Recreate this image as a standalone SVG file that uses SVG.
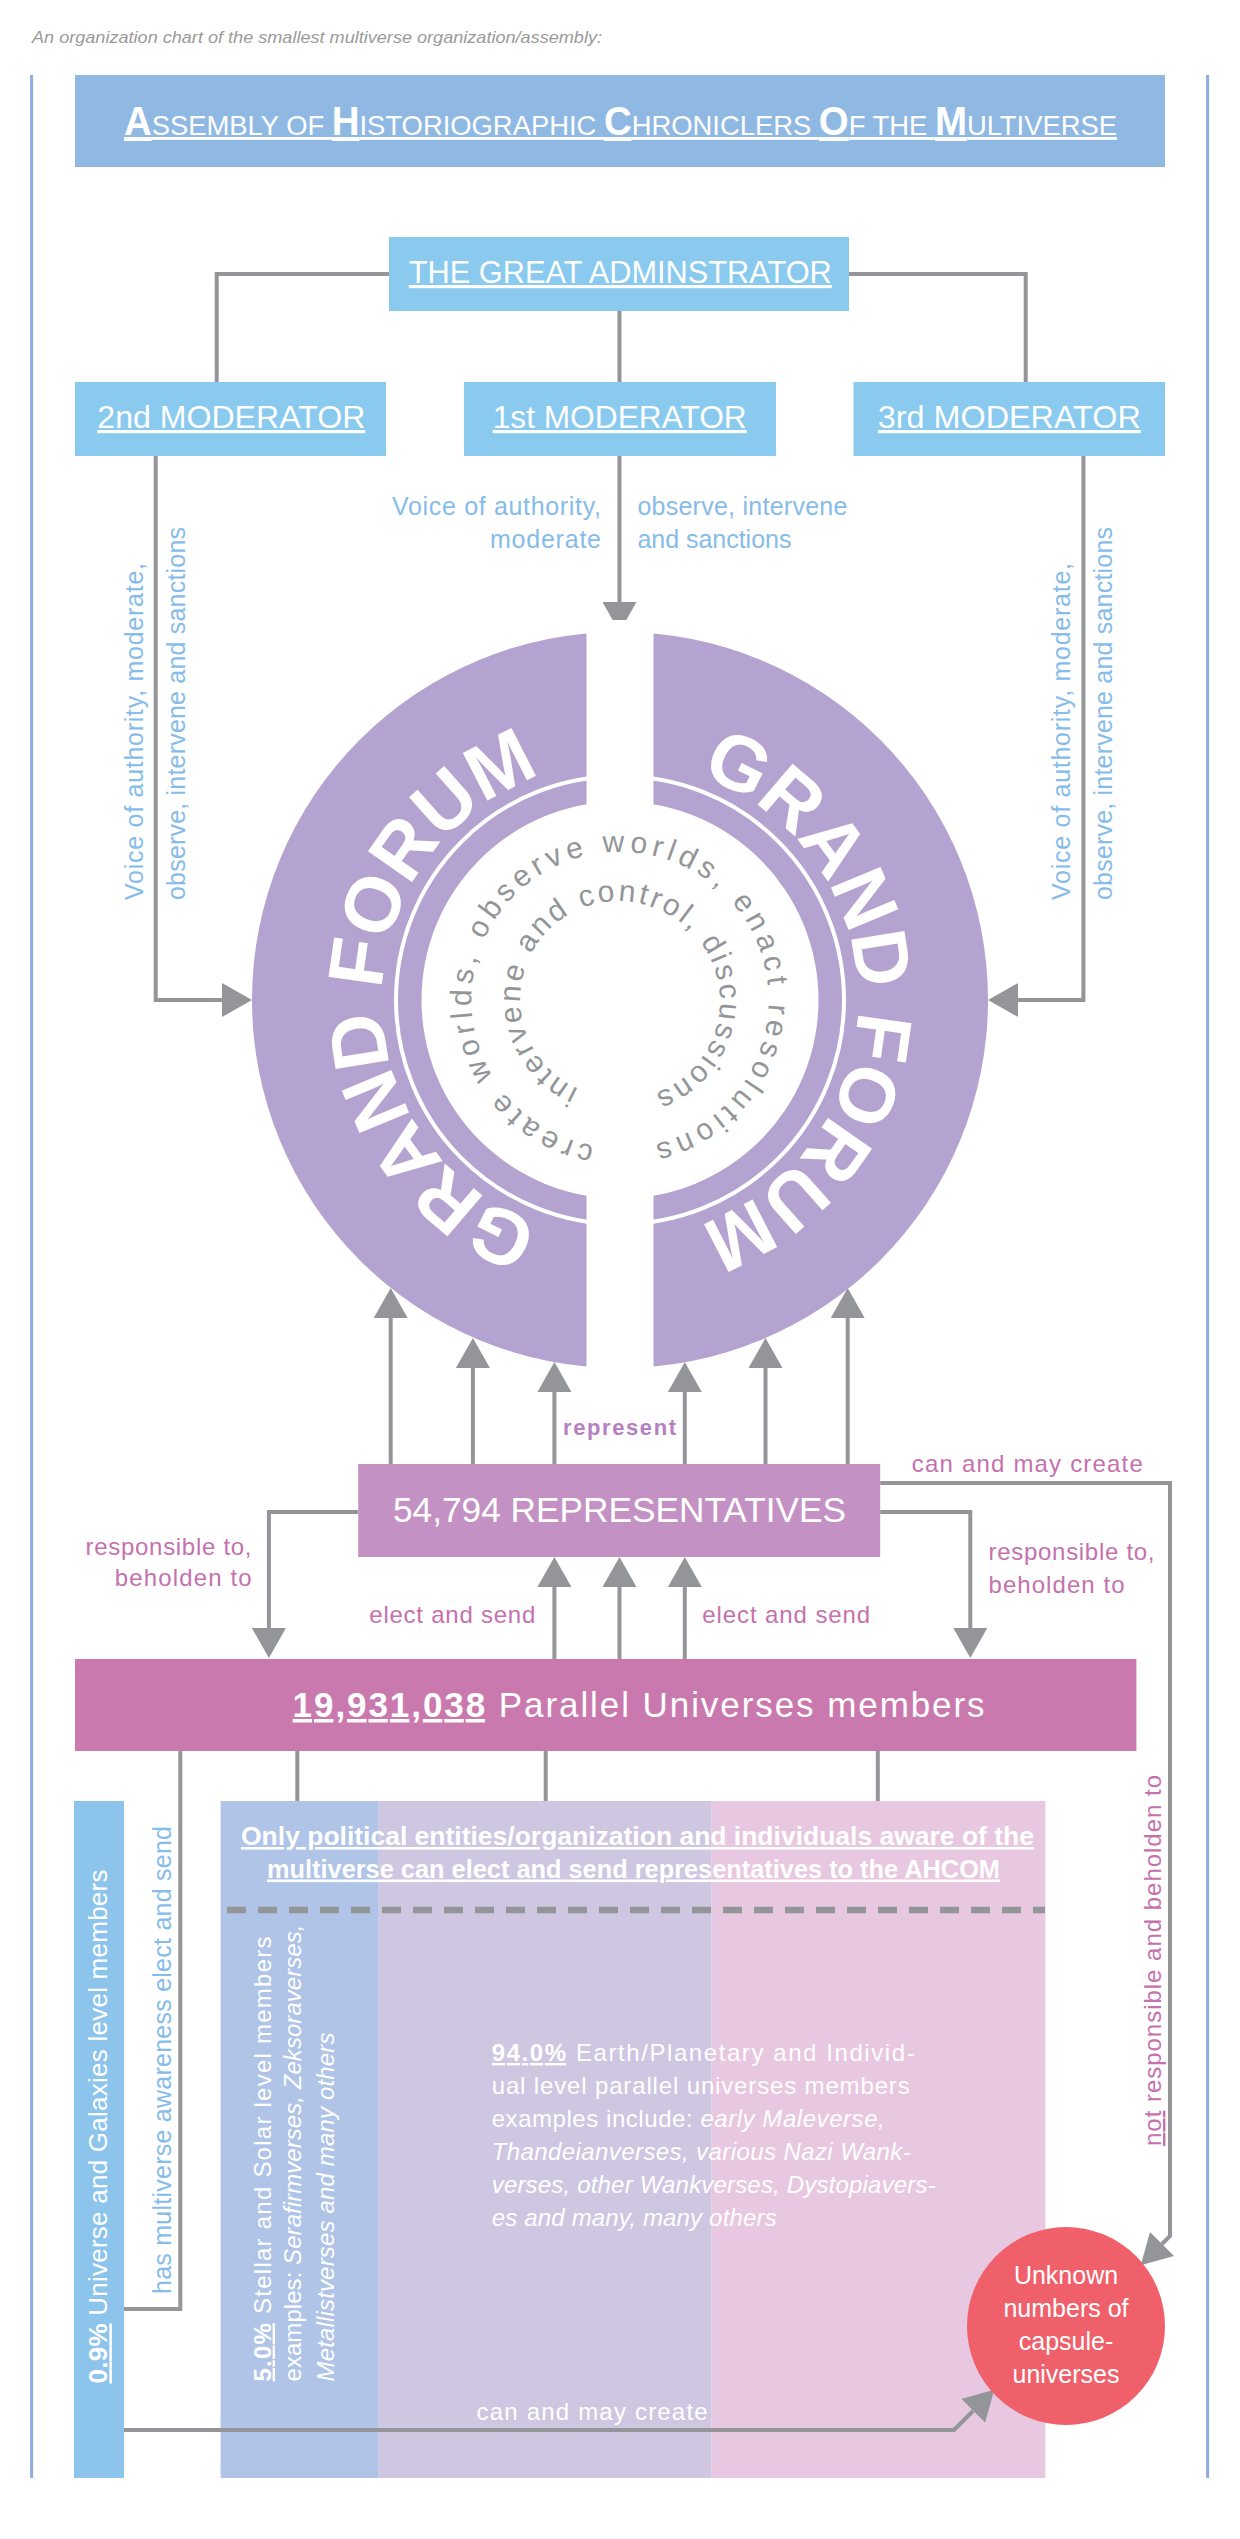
<svg xmlns="http://www.w3.org/2000/svg" width="1240" height="2539" viewBox="0 0 1240 2539">
<style>
text{font-family:"Liberation Sans",Arial,sans-serif;}
.cap{font-size:17px;font-style:italic;fill:#9a9a9a;}
.wt{fill:#ffffff;}
.u{text-decoration:underline;}
.b{font-weight:bold;}
.i{font-style:italic;}
.box{font-size:32px;fill:#ffffff;text-decoration:underline;}
.lb{font-size:25px;fill:#86bce9;}
.pk{font-size:24px;fill:#c571ae;}
.cn{fill:none;stroke:#939598;stroke-width:4;}
.gf{font-size:78px;font-weight:bold;fill:#ffffff;letter-spacing:-0.7px;}
.sp{font-size:30px;fill:#939598;}
.pn{font-size:24px;fill:#ffffff;}
</style>
<defs>
<marker id="ah" viewBox="0 0 30 34" refX="0" refY="17" markerWidth="30" markerHeight="34" markerUnits="userSpaceOnUse" orient="auto">
<path d="M0,0 L30,17 L0,34 Z" fill="#939598"/>
</marker>
<path id="gfL" d="M620,1238 A238,238 0 0,1 620,762"/>
<path id="gfR" d="M620,762 A238,238 0 0,1 620,1238"/>
<path id="spO" d="M594.3,1145.75 A148,148 0 1,1 645.7,854.25 A148,148 0 1,1 594.3,1145.75"/>
<path id="spI" d="M578.6,1088.8 A98,98 0 1,1 661.4,911.2 A98,98 0 1,1 578.6,1088.8"/>
</defs>
<rect x="0" y="0" width="1240" height="2539" fill="#ffffff"/>

<text class="cap" x="32" y="43" textLength="570" lengthAdjust="spacingAndGlyphs">An organization chart of the smallest multiverse organization/assembly:</text>

<g id="frame">
<line x1="31.6" y1="75" x2="31.6" y2="2478" stroke="#8eabdf" stroke-width="3"/>
<line x1="1207.6" y1="75" x2="1207.6" y2="2478" stroke="#8eabdf" stroke-width="3"/>
</g>

<g id="title">
<rect x="75" y="75" width="1090" height="92" fill="#8fb9e3"/>
<text x="124" y="135" textLength="993" lengthAdjust="spacingAndGlyphs" class="wt u" font-size="28.5"><tspan font-size="40" font-weight="bold">A</tspan>SSEMBLY OF <tspan font-size="40" font-weight="bold">H</tspan>ISTORIOGRAPHIC <tspan font-size="40" font-weight="bold">C</tspan>HRONICLERS <tspan font-size="40" font-weight="bold">O</tspan>F THE <tspan font-size="40" font-weight="bold">M</tspan>ULTIVERSE</text>
</g>

<g id="panel">
<rect x="220.6" y="1801" width="158.2" height="677" fill="#afc4e7"/>
<rect x="378.8" y="1801" width="332.9" height="677" fill="#cfc6e2"/>
<rect x="711.7" y="1801" width="333.7" height="677" fill="#e8c8e0"/>
<text class="wt b u" font-size="26" x="241" y="1845" textLength="793" lengthAdjust="spacingAndGlyphs">Only political entities/organization and individuals aware of the</text>
<text class="wt b u" font-size="26" x="267" y="1877.5" textLength="733" lengthAdjust="spacingAndGlyphs">multiverse can elect and send representatives to the AHCOM</text>
<line x1="227" y1="1910" x2="1045" y2="1910" stroke="#939598" stroke-width="6.5" stroke-dasharray="19 12"/>
<text class="pn" transform="translate(270.6,2381.5) rotate(-90)" textLength="445" lengthAdjust="spacing"><tspan class="b u">5.0%</tspan> Stellar and Solar level members</text>
<text class="pn" transform="translate(301,2381.5) rotate(-90)" textLength="457" lengthAdjust="spacing">examples: <tspan class="i">Serafirmverses, Zeksoraverses,</tspan></text>
<text class="pn i" transform="translate(333.8,2381.5) rotate(-90)" textLength="349" lengthAdjust="spacing">Metallistverses and many others</text>
<text class="pn" x="491.7" y="2061" textLength="423" lengthAdjust="spacing"><tspan class="b u">94.0%</tspan> Earth/Planetary and Individ-</text>
<text class="pn" x="491.7" y="2094" textLength="418" lengthAdjust="spacing">ual level parallel universes members</text>
<text class="pn" x="491.7" y="2127" textLength="393" lengthAdjust="spacing">examples include: <tspan class="i">early Maleverse,</tspan></text>
<text class="pn i" x="491.7" y="2160" textLength="419" lengthAdjust="spacing">Thandeianverses, various Nazi Wank-</text>
<text class="pn i" x="491.7" y="2193" textLength="444" lengthAdjust="spacing">verses, other Wankverses, Dystopiavers-</text>
<text class="pn i" x="491.7" y="2226" textLength="285" lengthAdjust="spacing">es and many, many others</text>
</g>

<g id="galaxies">
<rect x="74" y="1801" width="50" height="677" fill="#8dc4ec"/>
<text class="wt" font-size="26" transform="translate(107.3,2383.5) rotate(-90)" textLength="514" lengthAdjust="spacing"><tspan class="b u">0.9%</tspan> Universe and Galaxies level members</text>
</g>

<g id="connectors">
<path class="cn" d="M389,274 H216.7 V382"/>
<path class="cn" d="M848.5,274 H1025.7 V382"/>
<path class="cn" d="M619.5,311 V382"/>
<path class="cn" d="M155.7,456 V1000 H222" marker-end="url(#ah)"/>
<path class="cn" d="M1083.4,456 V1000 H1018" marker-end="url(#ah)"/>
<path class="cn" d="M619.5,456 V602" marker-end="url(#ah)"/>
<path class="cn" d="M390.7,1464 V1318" marker-end="url(#ah)"/>
<path class="cn" d="M472.9,1464 V1368" marker-end="url(#ah)"/>
<path class="cn" d="M554.4,1464 V1392" marker-end="url(#ah)"/>
<path class="cn" d="M684.8,1464 V1392" marker-end="url(#ah)"/>
<path class="cn" d="M765.5,1464 V1368" marker-end="url(#ah)"/>
<path class="cn" d="M847.7,1464 V1318" marker-end="url(#ah)"/>
<path class="cn" d="M358.2,1512 H268.9 V1628" marker-end="url(#ah)"/>
<path class="cn" d="M880.2,1512 H970.3 V1628" marker-end="url(#ah)"/>
<path class="cn" d="M554.4,1659 V1587" marker-end="url(#ah)"/>
<path class="cn" d="M619.5,1659 V1587" marker-end="url(#ah)"/>
<path class="cn" d="M684.8,1659 V1587" marker-end="url(#ah)"/>
<path class="cn" d="M880.2,1483 H1170 V2236 L1162,2244" marker-end="url(#ah)"/>
<path class="cn" d="M180.3,1751 V2309 H124"/>
<path class="cn" d="M297.3,1751 V1801"/>
<path class="cn" d="M545.7,1751 V1801"/>
<path class="cn" d="M877.8,1751 V1801"/>
<path class="cn" d="M124,2430 H954 L973,2411" marker-end="url(#ah)"/>
</g>

<g id="labels">
<text class="lb" x="392" y="515" textLength="209" lengthAdjust="spacing">Voice of authority,</text>
<text class="lb" x="490" y="548" textLength="111" lengthAdjust="spacing">moderate</text>
<text class="lb" x="637.4" y="515" textLength="210" lengthAdjust="spacing">observe, intervene</text>
<text class="lb" x="637.4" y="548" textLength="154" lengthAdjust="spacing">and sanctions</text>
<text class="lb" transform="translate(142.7,900) rotate(-90)" textLength="337" lengthAdjust="spacing">Voice of authority, moderate,</text>
<text class="lb" transform="translate(185,900) rotate(-90)" textLength="373" lengthAdjust="spacing">observe, intervene and sanctions</text>
<text class="lb" transform="translate(1070,900) rotate(-90)" textLength="337" lengthAdjust="spacing">Voice of authority, moderate,</text>
<text class="lb" transform="translate(1112,900) rotate(-90)" textLength="373" lengthAdjust="spacing">observe, intervene and sanctions</text>
<text font-size="22" font-weight="bold" fill="#b57fc0" x="563" y="1435" textLength="113" lengthAdjust="spacing">represent</text>
<text class="pk" x="911.8" y="1472" textLength="231" lengthAdjust="spacing">can and may create</text>
<text class="pk" x="85.5" y="1555" textLength="166" lengthAdjust="spacing">responsible to,</text>
<text class="pk" x="114.7" y="1586" textLength="137" lengthAdjust="spacing">beholden to</text>
<text class="pk" x="988.5" y="1560" textLength="166" lengthAdjust="spacing">responsible to,</text>
<text class="pk" x="988.5" y="1593" textLength="136" lengthAdjust="spacing">beholden to</text>
<text class="pk" x="369.3" y="1623" textLength="166" lengthAdjust="spacing">elect and send</text>
<text class="pk" x="702.2" y="1623" textLength="168" lengthAdjust="spacing">elect and send</text>
<text class="lb" transform="translate(171.4,2294) rotate(-90)" textLength="468" lengthAdjust="spacing">has multiverse awareness elect and send</text>
<text class="pk" transform="translate(1161,2146) rotate(-90)" textLength="371" lengthAdjust="spacing"><tspan class="u">not</tspan> responsible and beholden to</text>
<text class="pn" x="476.6" y="2420" textLength="231" lengthAdjust="spacing">can and may create</text>
</g>

<g id="administrator">
<rect x="389" y="237" width="460" height="74" fill="#89caee"/>
<text class="box" x="408.8" y="283" textLength="423" lengthAdjust="spacingAndGlyphs">THE GREAT ADMINSTRATOR</text>
</g>
<g id="moderator2">
<rect x="75" y="382" width="311" height="74" fill="#89caee"/>
<text class="box" x="97.3" y="428" textLength="268" lengthAdjust="spacingAndGlyphs">2nd MODERATOR</text>
</g>
<g id="moderator1">
<rect x="464" y="382" width="312" height="74" fill="#89caee"/>
<text class="box" x="492.7" y="428" textLength="254" lengthAdjust="spacingAndGlyphs">1st MODERATOR</text>
</g>
<g id="moderator3">
<rect x="853.5" y="382" width="311.5" height="74" fill="#89caee"/>
<text class="box" x="877.8" y="428" textLength="263" lengthAdjust="spacingAndGlyphs">3rd MODERATOR</text>
</g>

<g id="forum">
<circle cx="620" cy="1000" r="368" fill="#b4a3d0"/>
<circle cx="620" cy="1000" r="224" fill="none" stroke="#ffffff" stroke-width="4"/>
<circle cx="620" cy="1000" r="198.5" fill="#ffffff"/>
<rect x="586.5" y="620" width="67" height="760" fill="#ffffff"/>
<text class="gf"><textPath href="#gfL" startOffset="50%" text-anchor="middle">GRAND FORUM</textPath></text>
<text class="gf"><textPath href="#gfR" startOffset="50%" text-anchor="middle">GRAND FORUM</textPath></text>
<text class="sp" letter-spacing="4.9"><textPath href="#spO">create worlds, observe worlds, enact resolutions</textPath></text>
<text class="sp" letter-spacing="2.8"><textPath href="#spI">intervene and control, discussions</textPath></text>
</g>

<g id="representatives">
<rect x="358.2" y="1464" width="522" height="93" fill="#c391c3"/>
<text class="wt" font-size="35" x="393" y="1522" textLength="453" lengthAdjust="spacingAndGlyphs">54,794 REPRESENTATIVES</text>
</g>

<g id="members">
<rect x="75" y="1659" width="1061.4" height="92" fill="#ca79ae"/>
<text class="wt" font-size="35" x="292.6" y="1717" textLength="692" lengthAdjust="spacing"><tspan class="b u">19,931,038</tspan> Parallel Universes members</text>
</g>

<g id="capsule">
<circle cx="1066" cy="2326" r="99" fill="#f0606b"/>
<text class="wt" font-size="25" text-anchor="middle" x="1066" y="2284">Unknown</text>
<text class="wt" font-size="25" text-anchor="middle" x="1066" y="2317">numbers of</text>
<text class="wt" font-size="25" text-anchor="middle" x="1066" y="2350">capsule-</text>
<text class="wt" font-size="25" text-anchor="middle" x="1066" y="2383">universes</text>
</g>
</svg>
